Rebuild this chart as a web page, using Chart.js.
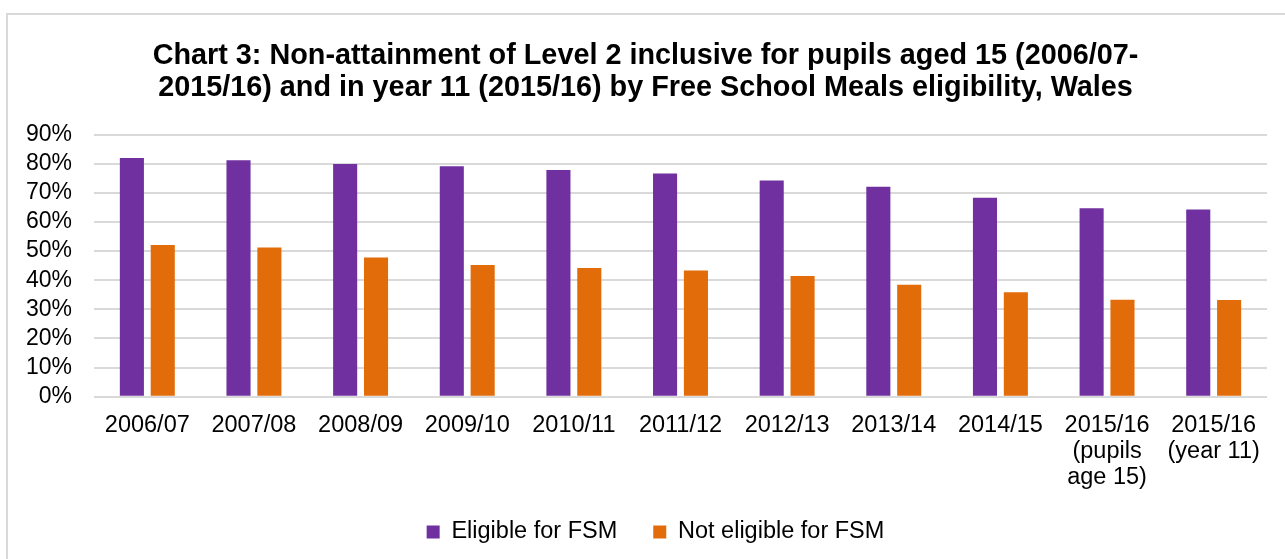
<!DOCTYPE html>
<html>
<head>
<meta charset="utf-8">
<script src="https://cdn.jsdelivr.net/npm/chart.js@4.4.1/dist/chart.umd.min.js"></script>
<style>
  html, body { margin: 0; padding: 0; background: #ffffff; }
  #wrap { position: relative; width: 1285px; height: 559px; }
</style>
</head>
<body>
<div id="wrap"><canvas id="chart" width="1285" height="559"></canvas></div>
<script>
// School years on the category axis (multi-line labels for the two 2015/16 entries)
const categories = [
  '2006/07', '2007/08', '2008/09', '2009/10', '2010/11', '2011/12',
  '2012/13', '2013/14', '2014/15',
  ['2015/16', '(pupils', 'age 15)'],
  ['2015/16', '(year 11)']
];

// Percentage of pupils not achieving Level 2 inclusive
const eligibleFSM    = [81.9, 81.2, 79.9, 79.1, 77.8, 76.6, 74.2, 72.1, 68.3, 64.7, 64.3];
const notEligibleFSM = [52.1, 51.2, 47.8, 45.2, 44.2, 43.3, 41.4, 38.4, 35.9, 33.3, 33.2];

// Value axis ticks
const yTicks = [0, 10, 20, 30, 40, 50, 60, 70, 80, 90];

const seriesNames = ['Eligible for FSM', 'Not eligible for FSM'];
const titleLines = [
  'Chart 3: Non-attainment of Level 2 inclusive for pupils aged 15 (2006/07-',
  '2015/16) and in year 11 (2015/16) by Free School Meals eligibility, Wales'
];

const FONT = '"Liberation Sans", Arial, Helvetica, sans-serif';

// White background plus the light grey frame around the chart
const framePlugin = {
  id: 'frame',
  beforeDraw(chart) {
    const ctx = chart.ctx;
    ctx.save();
    ctx.fillStyle = '#ffffff';
    ctx.fillRect(0, 0, chart.width, chart.height);
    ctx.strokeStyle = '#d9d9d9';
    ctx.lineWidth = 2;
    ctx.beginPath();
    ctx.moveTo(7, chart.height + 5);
    ctx.lineTo(7, 14);
    ctx.lineTo(chart.width + 5, 14);
    ctx.stroke();
    ctx.restore();
  }
};

// Let the three-line category labels run past the axis box, and nudge the legend right
const layoutTweaks = {
  id: 'layoutTweaks',
  afterLayout(chart) {
    chart.scales.x.bottom += 16;
    chart.legend.left += 10;
    chart.legend.right += 10;
  }
};

new Chart(document.getElementById('chart'), {
  type: 'bar',
  data: {
    labels: categories,
    datasets: [
      {
        label: seriesNames[0],
        data: eligibleFSM,
        backgroundColor: '#7030A0',
        categoryPercentage: 0.579,
        barPercentage: 0.78
      },
      {
        label: seriesNames[1],
        data: notEligibleFSM,
        backgroundColor: '#E36C0A',
        categoryPercentage: 0.579,
        barPercentage: 0.78
      }
    ]
  },
  options: {
    responsive: false,
    animation: false,
    layout: { padding: { left: 24, right: 18, top: 27, bottom: 5.25 } },
    plugins: {
      title: {
        display: true,
        text: titleLines,
        color: '#000000',
        font: { family: FONT, size: 28.8, weight: 'bold', lineHeight: 1.12 },
        padding: { top: 13, bottom: 30 }
      },
      legend: {
        position: 'bottom',
        labels: {
          color: '#000000',
          font: { family: FONT, size: 23.5 },
          boxWidth: 13,
          boxHeight: 13,
          padding: 36
        }
      },
      tooltip: { enabled: false }
    },
    scales: {
      x: {
        grid: { display: false },
        border: { display: false },
        afterFit(axis) { axis.height = 87.5; },
        ticks: {
          color: '#000000',
          font: { family: FONT, size: 23.5, lineHeight: 1.1 },
          maxRotation: 0,
          autoSkip: false,
          padding: 8
        }
      },
      y: {
        min: 0,
        max: 90,
        afterBuildTicks(axis) {
          axis.ticks = yTicks.map(v => ({ value: v }));
        },
        afterFit(axis) { axis.width = 70; },
        grid: { color: '#d9d9d9', lineWidth: 2, drawTicks: false },
        border: { display: false },
        ticks: {
          color: '#000000',
          font: { family: FONT, size: 23 },
          padding: 22,
          autoSkip: false,
          callback: v => v + '%'
        }
      }
    }
  },
  plugins: [framePlugin, layoutTweaks]
});
</script>
</body>
</html>
